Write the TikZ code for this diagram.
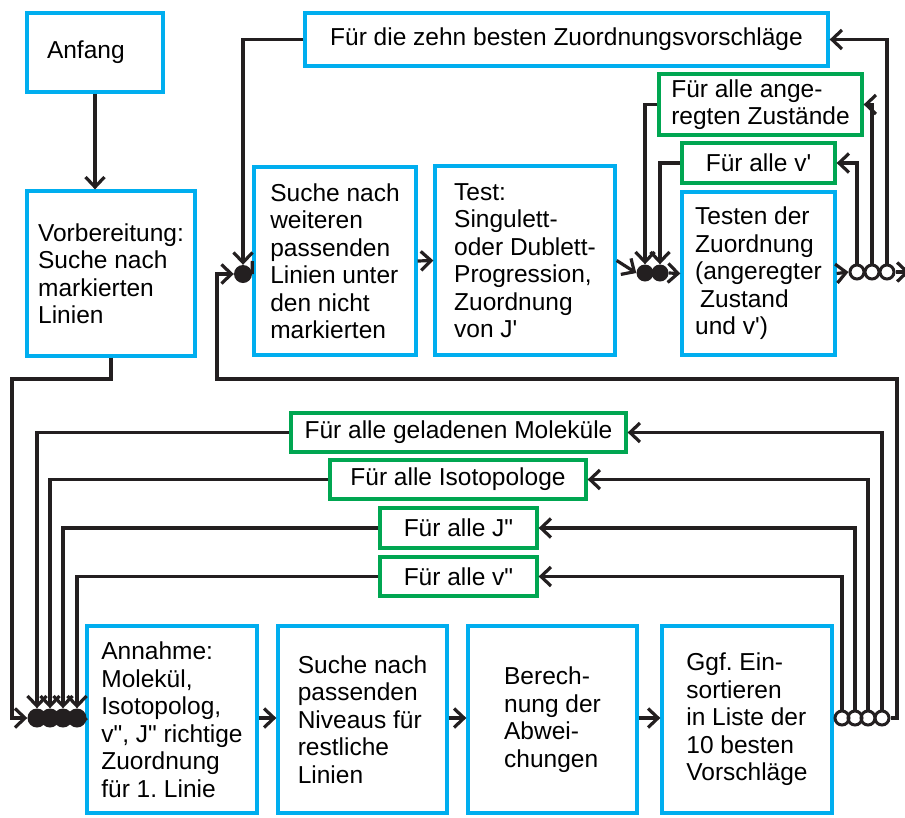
\documentclass[tikz,border=0pt]{standalone}
\usepackage{fontspec}
\setmainfont{Liberation Sans}
\usetikzlibrary{arrows.meta}
\definecolor{boxcyan}{RGB}{0,174,239}
\definecolor{loopgreen}{RGB}{0,166,81}
\definecolor{wireblack}{RGB}{35,31,32}
\frenchspacing
\tikzset{
  stepbox/.style={
    rectangle,
    draw=boxcyan,
    line width=3.3pt,
    fill=white,
    align=left,
    inner sep=0pt,
    font=\fontsize{24.5}{27.5}\selectfont
  },
  loopbox/.style={
    stepbox,
    draw=loopgreen
  },
  joinfull/.style={circle, fill=wireblack, minimum size=18pt, inner sep=0pt},
  joinopen/.style={circle, draw=wireblack, line width=3pt, minimum size=14pt, inner sep=0pt},
  wire/.style={line width=3.2pt, wireblack},
  flow/.style={-{Straight Barb[length=10pt,width=19pt]}, line width=3.2pt, wireblack}
}

\begin{document}
\begin{tikzpicture}[x=1pt,y=-1pt]
\useasboundingbox (0,0) rectangle (905,817);
\node[stepbox, minimum width=136pt, minimum height=79pt, text width=96pt] (start) at (95,52.5) {Anfang};
\node[stepbox, minimum width=168pt, minimum height=165pt] (prep) at (111,273.5) {Vorbereitung:\\Suche nach\\markierten\\Linien};
\node[stepbox, minimum width=523pt, minimum height=53pt] (best) at (566.5,39.5) {Für die zehn besten Zuordnungsvorschläge};
\node[stepbox, minimum width=162pt, minimum height=188pt] (search) at (335,261) {Suche nach\\weiteren\\passenden\\Linien unter\\den nicht\\markierten};
\node[stepbox, minimum width=180pt, minimum height=189pt] (test) at (525,260.5) {Test:\\Singulett-\\oder Dublett-\\Progression,\\Zuordnung\\von J\textquotesingle};
\node[stepbox, minimum width=153pt, minimum height=163pt] (check) at (758.5,273.5) {Testen der\\Zuordnung\\(angeregter\\\hspace*{5pt}Zustand\\und v\textquotesingle)};
\node[loopbox, minimum width=203pt, minimum height=61pt] (states) at (760.5,104.5) {Für alle ange-\\regten Zustände};
\node[loopbox, minimum width=153pt, minimum height=40pt] (vup) at (758.5,163) {Für alle v\textquotesingle};
\node[loopbox, minimum width=335pt, minimum height=39pt] (molec) at (458.5,432.5) {Für alle geladenen Moleküle};
\node[loopbox, minimum width=256pt, minimum height=39pt] (isotop) at (458,479.5) {Für alle Isotopologe};
\node[loopbox, minimum width=157pt, minimum height=40pt] (jlow) at (458.5,528) {Für alle J\textquotedbl};
\node[loopbox, minimum width=157pt, minimum height=39pt] (vlow) at (458.5,576.5) {Für alle v\textquotedbl};
\node[stepbox, minimum width=170pt, minimum height=187pt] (assume) at (172,719.5) {Annahme:\\Molekül,\\Isotopolog,\\v\textquotedbl, J\textquotedbl{} richtige\\Zuordnung\\für 1. Linie};
\node[stepbox, minimum width=169pt, minimum height=187pt] (levels) at (362.5,719.5) {Suche nach\\passenden\\Niveaus für\\restliche\\Linien};
\node[stepbox, minimum width=169pt, minimum height=187pt] (dev) at (552.5,719.5) {Berech-\\nung der\\Abwei-\\chungen};
\node[stepbox, minimum width=170pt, minimum height=187pt] (insert) at (747,719.5) {Ggf. Ein-\\sortieren\\in Liste der\\10 besten\\Vorschläge};
\node[joinfull] (jtop) at (243,274) {};
\node[joinfull, minimum size=17pt] (ja) at (645,273) {};
\node[joinfull, minimum size=17pt] (jb) at (660,273) {};
\node[joinopen] (oa) at (857,272) {};
\node[joinopen] (ob) at (872,272) {};
\node[joinopen] (oc) at (887,272) {};
\node[joinfull, minimum size=19pt] (ba) at (37,718) {};
\node[joinfull, minimum size=19pt] (bb) at (50,718) {};
\node[joinfull, minimum size=19pt] (bc) at (63,718) {};
\node[joinfull, minimum size=19pt] (bd) at (77,718) {};
\node[joinopen] (ca) at (842,718) {};
\node[joinopen] (cb) at (855,718) {};
\node[joinopen] (cc) at (868,718) {};
\node[joinopen] (cd) at (882,718) {};
\coordinate (prepdown) at (12,379);
\coordinate (backright) at (897,379);
\coordinate (backleft) at (217,379);
\draw[flow] (start.south) -- (start.south |- prep.north);
\draw[flow] (prep.south) |- (prepdown) |- (ba.west);
\draw[flow] (best.west) -| (jtop.north);
\draw[wire] (jtop.east) -- (search.west);
\draw[flow] (search.east) -- (test.west);
\draw[flow] (test.east) -- (ja.west);
\draw[flow] (states.west) -| (ja.north);
\draw[flow] (vup.west) -| (jb.north);
\draw[flow] (jb.east) -- (check.west);
\draw[flow] (check.east) -- (oa.west);
\draw[flow] (oa.north) |- (vup.east);
\draw[flow] (ob.north) |- (states.east);
\draw[flow] (oc.north) |- (best.east);
\draw[flow] (oc.east) -- ++(14,0);
\draw[flow] (molec.west) -| (ba.north);
\draw[flow] (isotop.west) -| (bb.north);
\draw[flow] (jlow.west) -| (bc.north);
\draw[flow] (vlow.west) -| (bd.north);
\draw[wire] (bd.east) -- (assume.west);
\draw[flow] (assume.east |- bd.east) -- (levels.west |- bd.east);
\draw[flow] (levels.east |- bd.east) -- (dev.west |- bd.east);
\draw[flow] (dev.east |- bd.east) -- (insert.west |- bd.east);
\draw[wire] (insert.east |- ca.west) -- (ca.west);
\draw[flow] (ca.north) |- (vlow.east);
\draw[flow] (cb.north) |- (jlow.east);
\draw[flow] (cc.north) |- (isotop.east);
\draw[flow] (cd.north) |- (molec.east);
\draw[flow] (cd.east) -| (backright) -- (backleft) |- (jtop.west);
\end{tikzpicture}
\end{document}
